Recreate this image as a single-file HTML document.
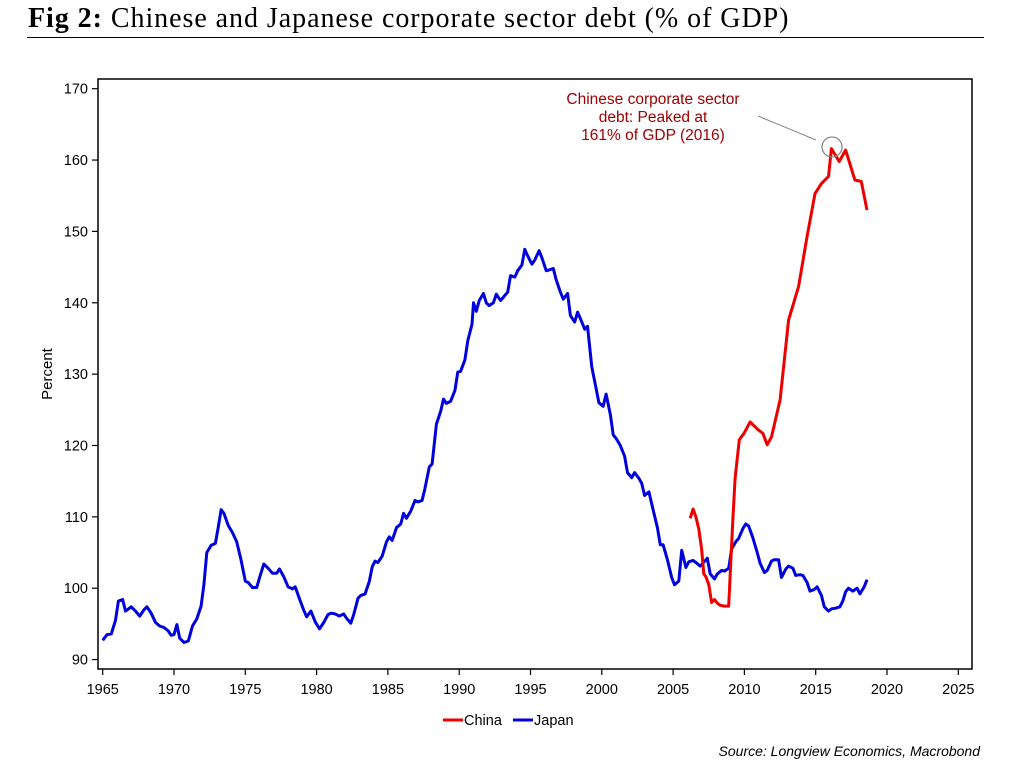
<!DOCTYPE html>
<html><head><meta charset="utf-8"><style>
body{margin:0;background:#fff;width:1013px;height:767px;overflow:hidden;font-family:"Liberation Sans",sans-serif}
#title{position:absolute;left:28px;top:3px;font-family:"Liberation Serif",serif;font-size:28px;letter-spacing:0.95px;color:#000;white-space:nowrap}
#rule{position:absolute;left:27px;top:37px;width:957px;height:1px;background:#000}
svg{position:absolute;left:0;top:0}
</style></head><body>
<div id="title"><b>Fig 2:</b> Chinese and Japanese corporate sector debt (% of GDP)</div>
<div id="rule"></div>
<svg id="chart" width="1013" height="767"></svg>
<script>
const xTicks=[1965,1970,1975,1980,1985,1990,1995,2000,2005,2010,2015,2020,2025];
const yTicks=[90,100,110,120,130,140,150,160,170];
const japanYears=[1965.0,1965.3,1965.6,1965.9,1966.1,1966.4,1966.6,1967.0,1967.3,1967.6,1967.9,1968.1,1968.4,1968.7,1969.0,1969.3,1969.6,1969.8,1970.0,1970.2,1970.4,1970.7,1971.0,1971.3,1971.6,1971.9,1972.1,1972.3,1972.6,1972.9,1973.1,1973.3,1973.5,1973.8,1974.1,1974.4,1974.7,1975.0,1975.2,1975.5,1975.8,1976.0,1976.3,1976.6,1976.9,1977.2,1977.4,1977.7,1978.0,1978.3,1978.5,1978.8,1979.1,1979.3,1979.6,1979.9,1980.2,1980.5,1980.8,1981.0,1981.3,1981.6,1981.9,1982.1,1982.4,1982.6,1982.9,1983.1,1983.4,1983.7,1983.9,1984.1,1984.3,1984.6,1984.9,1985.1,1985.3,1985.6,1985.9,1986.1,1986.3,1986.6,1986.9,1987.1,1987.4,1987.6,1987.9,1988.1,1988.4,1988.7,1988.9,1989.1,1989.4,1989.7,1989.9,1990.1,1990.4,1990.6,1990.9,1991.0,1991.2,1991.4,1991.7,1991.9,1992.1,1992.4,1992.6,1992.9,1993.1,1993.4,1993.6,1993.9,1994.1,1994.4,1994.6,1994.8,1995.1,1995.3,1995.6,1995.8,1996.1,1996.3,1996.6,1996.8,1997.1,1997.3,1997.6,1997.8,1998.1,1998.3,1998.6,1998.8,1999.0,1999.3,1999.6,1999.8,2000.1,2000.3,2000.6,2000.8,2001.0,2001.3,2001.6,2001.8,2002.1,2002.3,2002.6,2002.8,2003.0,2003.3,2003.6,2003.9,2004.1,2004.3,2004.6,2004.9,2005.1,2005.4,2005.6,2005.9,2006.1,2006.4,2006.6,2006.9,2007.1,2007.4,2007.6,2007.9,2008.1,2008.4,2008.6,2008.9,2009.1,2009.4,2009.6,2009.9,2010.1,2010.3,2010.6,2010.9,2011.1,2011.4,2011.6,2011.9,2012.1,2012.4,2012.6,2012.9,2013.1,2013.4,2013.6,2013.9,2014.1,2014.4,2014.6,2014.9,2015.1,2015.4,2015.6,2015.9,2016.1,2016.4,2016.7,2016.9,2017.1,2017.3,2017.6,2017.9,2018.1,2018.4,2018.6];
const japanValues=[92.7,93.5,93.6,95.5,98.2,98.4,96.8,97.4,96.8,96.1,97.0,97.4,96.5,95.2,94.7,94.5,94.0,93.4,93.5,94.9,93.0,92.4,92.6,94.7,95.7,97.5,100.5,105,106,106.3,108.5,111.0,110.5,108.8,107.8,106.5,104,101.0,100.8,100.1,100.1,101.5,103.4,102.8,102.1,102.1,102.7,101.6,100.2,99.9,100.2,98.5,96.9,96.0,96.8,95.3,94.3,95.2,96.3,96.5,96.4,96.1,96.4,95.8,95.1,96.3,98.6,99.0,99.2,101.0,103.0,103.8,103.6,104.5,106.5,107.2,106.7,108.5,109.0,110.5,109.8,110.8,112.3,112.1,112.3,114,117,117.4,123,124.8,126.5,125.9,126.2,127.7,130.3,130.4,132.0,134.7,137.0,140.0,138.8,140.3,141.3,140.0,139.6,140.0,141.2,140.3,140.8,141.5,143.8,143.6,144.5,145.3,147.5,146.6,145.4,146.0,147.3,146.3,144.5,144.6,144.8,143.2,141.5,140.5,141.3,138.2,137.3,138.7,137.3,136.3,136.7,131.0,128.0,126.0,125.5,127.2,124.3,121.5,121.0,120,118.5,116.2,115.5,116.2,115.4,114.7,113.0,113.5,111.0,108.5,106.1,106.1,104,101.5,100.5,101,105.3,102.9,103.7,103.9,103.6,103.1,103.5,104.2,102.0,101.3,102.0,102.5,102.4,102.8,105.5,106.5,107.0,108.4,109.0,108.7,107,105,103.5,102.2,102.5,103.8,104.0,104.0,101.5,102.7,103.1,102.8,101.8,101.9,101.8,100.8,99.6,99.8,100.2,99.0,97.4,96.8,97.1,97.2,97.4,98.2,99.5,100,99.6,100,99.2,100.2,101.2];
const chinaYears=[2006.2,2006.4,2006.6,2006.8,2007.0,2007.15,2007.3,2007.5,2007.7,2007.9,2008.1,2008.3,2008.6,2008.9,2009.05,2009.2,2009.35,2009.64,2010.0,2010.4,2010.97,2011.3,2011.6,2011.9,2012.5,2013.1,2013.8,2014.4,2014.95,2015.4,2015.9,2016.1,2016.65,2017.1,2017.75,2018.2,2018.6];
const chinaValues=[109.8,111.1,110,108.3,105.5,102,101.6,100.5,98.0,98.4,97.9,97.6,97.5,97.5,104,110,115.4,120.8,121.8,123.3,122.2,121.7,120.1,121.2,126.4,137.6,142.3,149.3,155.3,156.7,157.7,161.6,159.8,161.4,157.2,157.0,153.0];

const NS='http://www.w3.org/2000/svg';
const svg=document.getElementById('chart');
const X0=102.7,XS=14.26,Y0=88.7,YS=7.136;
const sx=y=>X0+(y-1965)*XS;
const sy=v=>Y0+(170-v)*YS;
function mk(t,a,p){const e=document.createElementNS(NS,t);for(const k in a)e.setAttribute(k,a[k]);(p||svg).appendChild(e);return e;}

const frame=mk('rect',{x:98,y:79,width:874,height:590,fill:'none',stroke:'#000','stroke-width':1.5});



yTicks.forEach(v=>{
  const t=mk('line',{x1:92,x2:98,y1:sy(v),y2:sy(v),stroke:'#000','stroke-width':1.2});
  
  
  const l=mk('text',{x:88,y:sy(v)+5,'text-anchor':'end','font-size':14.5,fill:'#000'});
  l.textContent=v;
  
  
});
xTicks.forEach(yr=>{
  const t=mk('line',{x1:sx(yr),x2:sx(yr),y1:669,y2:675,stroke:'#000','stroke-width':1.2});
  
  
  const l=mk('text',{x:sx(yr),y:694,'text-anchor':'middle','font-size':14.5,fill:'#000'});
  l.textContent=yr;
  
  
});
const yt=mk('text',{x:52,y:374,'text-anchor':'middle','font-size':15,fill:'#000',transform:'rotate(-90 52 374)'});
yt.textContent='Percent';



function series(xs,vs,color,name){
  const d=xs.map((x,i)=>(i?'L':'M')+sx(x).toFixed(1)+' '+sy(vs[i]).toFixed(1)).join(' ');
  const p=mk('path',{d:d,fill:'none',stroke:color,'stroke-width':3,'stroke-linejoin':'round'});
  
  
}
series(japanYears,japanValues,'#0000dd','japan-line');
series(chinaYears,chinaValues,'#ee0000','china-line');

const c=mk('circle',{cx:832,cy:147,r:10,fill:'none',stroke:'#888','stroke-width':1.3});


const ln=mk('line',{x1:758,y1:116,x2:816,y2:140,stroke:'#888','stroke-width':1});


['Chinese corporate sector','debt: Peaked at','161% of GDP (2016)'].forEach((s,i)=>{
  const t=mk('text',{x:653,y:104+i*18,'text-anchor':'middle','font-size':15.5,fill:'#a00000'});
  t.textContent=s;
  
  
});

[['China','#ee0000',443],['Japan','#0000dd',513]].forEach(([n,col,x])=>{
  const l=mk('line',{x1:x,x2:x+20,y1:720,y2:720,stroke:col,'stroke-width':3});
  
  
  const t=mk('text',{x:x+21,y:725,'font-size':14.5,fill:'#000'});
  t.textContent=n;
  
  
});
const src=mk('text',{x:980,y:756,'text-anchor':'end','font-size':14,'font-style':'italic',fill:'#000'});
src.textContent='Source: Longview Economics, Macrobond';


</script>
</body></html>
